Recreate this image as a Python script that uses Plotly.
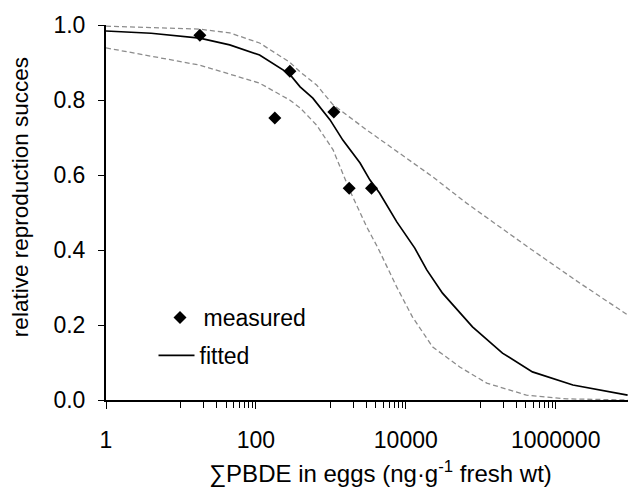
import plotly.graph_objects as go

# measured points
meas_x = [17.9, 179, 284, 1096, 1757, 3490]
meas_y = [0.973, 0.752, 0.877, 0.768, 0.565, 0.565]

# fitted curve
fit_x = [1, 4, 17.8, 44.7, 112, 282, 389, 575, 977, 1445, 2455, 3311, 4467, 7586,
         13183, 19055, 30903, 77625, 194984, 489779, 1698244, 5754399, 9120108]
fit_y = [0.984, 0.978, 0.965, 0.947, 0.920, 0.869, 0.835, 0.805, 0.747, 0.693, 0.632, 0.587, 0.552, 0.475,
         0.405, 0.347, 0.285, 0.195, 0.125, 0.075, 0.040, 0.019, 0.013]

# upper confidence band
up_x = [1, 17.8, 44.7, 112, 282, 389, 646, 1072, 3020, 8318, 22909, 64565, 177828, 446684,
        2089296, 9120108]
up_y = [0.997, 0.989, 0.979, 0.952, 0.901, 0.875, 0.840, 0.787, 0.720, 0.658, 0.595, 0.525, 0.461, 0.405,
        0.312, 0.227]

# lower confidence band
lo_x = [1, 17.8, 112, 282, 389, 646, 1072, 1778, 3020, 4266, 7586, 12300, 22909, 52481,
        120226, 407380, 1412538, 9120108]
lo_y = [0.939, 0.893, 0.845, 0.800, 0.779, 0.733, 0.667, 0.560, 0.461, 0.405, 0.301, 0.221, 0.141, 0.088,
        0.045, 0.013, 0.003, 0.000]

y_ticks = [0.0, 0.2, 0.4, 0.6, 0.8, 1.0]
x_ticks = [1, 100, 10000, 1000000]
x_tick_text = ["1", "100", "10000", "1000000"]
x_minor = [m * 10 * 100 ** k for k in range(4) for m in range(1, 10)]

FONT = "Liberation Sans, Arial, sans-serif"
band_style = dict(color="#8c8c8c", width=1.3, dash="5px,3px")

fig = go.Figure()
fig.add_trace(go.Scatter(x=up_x, y=up_y, mode="lines", line=band_style, showlegend=False, hoverinfo="skip"))
fig.add_trace(go.Scatter(x=lo_x, y=lo_y, mode="lines", line=band_style, showlegend=False, hoverinfo="skip"))
fig.add_trace(go.Scatter(x=meas_x, y=meas_y, mode="markers", name="measured", legend="legend",
                         marker=dict(symbol="diamond", size=10, color="black")))
fig.add_trace(go.Scatter(x=fit_x, y=fit_y, mode="lines", name="fitted", legend="legend2",
                         line=dict(color="black", width=1.7)))

fig.update_layout(
    width=628, height=491,
    margin=dict(l=106, r=0, t=25, b=91),
    plot_bgcolor="white", paper_bgcolor="white",
    font=dict(family=FONT, size=23, color="black"),
    showlegend=True,
    legend=dict(x=(156.5 - 106) / 522, y=0.2773, xanchor="left", yanchor="top",
                bgcolor="rgba(0,0,0,0)", font=dict(size=23), itemwidth=37),
    legend2=dict(x=(153.5 - 106) / 522, y=0.176, xanchor="left", yanchor="top",
                 bgcolor="rgba(0,0,0,0)", font=dict(size=23), itemwidth=36),
    xaxis=dict(type="log", range=[0, 6.965], showline=True, linecolor="black", linewidth=2,
               tickmode="array", tickvals=x_ticks, ticktext=x_tick_text,
               ticks="outside", ticklen=7, tickwidth=1.3, tickcolor="black",
               showgrid=False, zeroline=False, ticklabelstandoff=11,
               minor=dict(tickmode="array", tickvals=x_minor, ticks="outside", ticklen=6,
                          tickwidth=1.3, tickcolor="black", showgrid=False)),
    yaxis=dict(range=[0, 1], showline=True, linecolor="black", linewidth=2,
               tickmode="array", tickvals=y_ticks, tickformat=".1f",
               ticks="outside", ticklen=6, tickwidth=1.3, tickcolor="black",
               showgrid=False, zeroline=False, ticklabelstandoff=8),
    annotations=[
        dict(text="relative reproduction succes", textangle=-90, showarrow=False,
             xref="paper", yref="paper", x=0, y=0.541, xanchor="center", yanchor="middle",
             xshift=-86, font=dict(size=22.5)),
        dict(text="\u2211PBDE in eggs (ng\u00b7g<sup>-1</sup> fresh wt)", showarrow=False,
             xref="paper", yref="paper", x=0.525, y=0, xanchor="center", yanchor="middle",
             yshift=-72, font=dict(size=24)),
    ],
)

fig.write_html("out.html", config={"displayModeBar": False},
               post_script="document.body.style.margin='0';")
